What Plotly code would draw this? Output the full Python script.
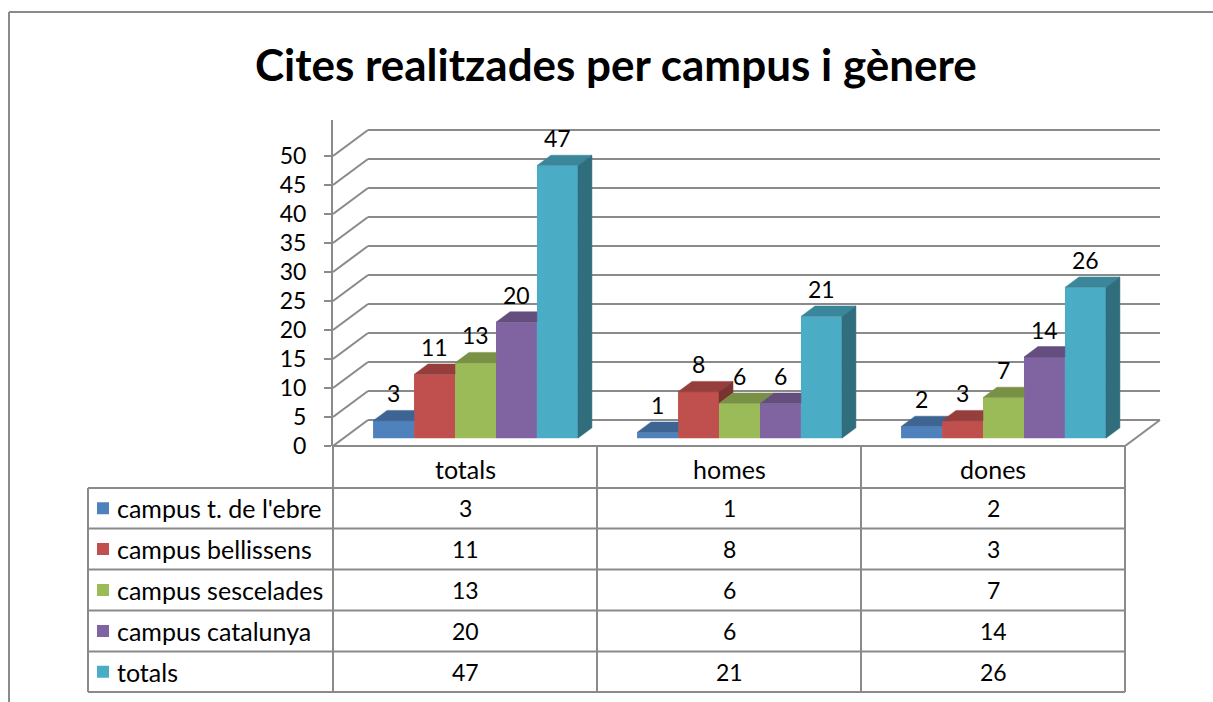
import plotly.graph_objects as go

# ---------------- data ----------------
categories = ["totals", "homes", "dones"]
series_names = ["campus t. de l'ebre", "campus bellissens", "campus sescelades",
                "campus catalunya", "totals"]
ebre = [3, 1, 2]
bellissens = [11, 8, 3]
sescelades = [13, 6, 7]
catalunya = [20, 6, 14]
totals = [47, 21, 26]
series_values = [ebre, bellissens, sescelades, catalunya, totals]
y_ticks = [0, 5, 10, 15, 20, 25, 30, 35, 40, 45, 50]
title_text = "Cites realitzades per campus i gènere"

# ---------------- style ----------------
colors = ["#4F81BD", "#C0504D", "#9BBB59", "#8064A2", "#4BACC6"]
FONT = "Lato"
FS = 23      # numbers
FS_T = 25    # words in the table
GRAY = "#8a8a8a"


def shade(hexcol, f):
    h = hexcol.lstrip("#")
    r, g, b = (int(h[i:i + 2], 16) for i in (0, 2, 4))
    return "rgb(%d,%d,%d)" % (r * f, g * f, b * f)


W, H = 1213, 702
PX_L, PX_R, PX_B, PX_T = 333, 1162, 446, 120
UX, UY = 264.0, 5.8             # px per category, px per value unit
x_range = [0, (PX_R - PX_L) / UX]
y_range = [0, (PX_B - PX_T) / UY]
DX, DY = 35 / UX, 26 / UY       # full depth of the 3D floor (data units)
F0, FD = 0.3, 0.4               # bar front depth fraction, bar depth fraction
BW = 0.1552                     # bar width (category units)
b = F0 * DY                     # bar base (visual)
bdx, bdy = FD * DX, FD * DY


def px_x(px):
    return (px - PX_L) / (PX_R - PX_L)


def px_y(py):
    return (PX_B - py) / (PX_B - PX_T)


fig = go.Figure()
shapes = []
annotations = []

# back wall gridlines + left wall diagonals
for v in y_ticks:
    shapes.append(dict(type="line", xref="x", yref="y", x0=DX, y0=v + DY,
                       x1=len(categories) + DX, y1=v + DY,
                       line=dict(color=GRAY, width=2), layer="below"))
    shapes.append(dict(type="line", xref="x", yref="y", x0=0, y0=v,
                       x1=DX, y1=v + DY,
                       line=dict(color=GRAY, width=2), layer="below"))
# floor right edge
shapes.append(dict(type="line", xref="x", yref="y", x0=len(categories), y0=0,
                   x1=len(categories) + DX, y1=DY,
                   line=dict(color=GRAY, width=2), layer="below"))

# bars (front faces)
nS = len(series_values)
lefts = [[i + 0.5 + F0 * DX - nS * BW / 2 + j * BW for i in range(len(categories))]
         for j in range(nS)]
for j, (name, vals) in enumerate(zip(series_names, series_values)):
    fig.add_trace(go.Bar(
        x=[L + BW / 2 for L in lefts[j]], y=vals, base=b, width=BW,
        marker=dict(color=colors[j], line=dict(width=0)),
        name=name, showlegend=False, hoverinfo="skip"))

# top and side faces
for j, vals in enumerate(series_values):
    for i, v in enumerate(vals):
        L = lefts[j][i]
        R = L + BW
        Ht = v + b
        nxt = series_values[j + 1][i] + b if j + 1 < nS else None
        if nxt is None or nxt <= Ht:
            tx = [L, R, R + bdx, L + bdx, L]
            ty = [Ht, Ht, Ht + bdy, Ht + bdy, Ht]
        elif nxt >= Ht + bdy:
            tx = [L, R, R, L + bdx, L]
            ty = [Ht, Ht, Ht + bdy, Ht + bdy, Ht]
        else:
            tx = [L, R, R, R + (nxt - Ht) * bdx / bdy, R + bdx, L + bdx, L]
            ty = [Ht, Ht, nxt, nxt, Ht + bdy, Ht + bdy, Ht]
        top_col = shade(colors[j], 0.78)
        fig.add_trace(go.Scatter(x=tx, y=ty, mode="lines", fill="toself",
                                 fillcolor=top_col, line=dict(width=0.5, color=top_col),
                                 showlegend=False, hoverinfo="skip"))
        low = b if nxt is None else nxt
        if low < Ht:
            side_col = shade(colors[j], 0.64)
            sx = [R, R + bdx, R + bdx, R, R]
            sy = [low, low + bdy, Ht + bdy, Ht, low]
            fig.add_trace(go.Scatter(x=sx, y=sy, mode="lines", fill="toself",
                                     fillcolor=side_col, line=dict(width=0.5, color=side_col),
                                     showlegend=False, hoverinfo="skip"))
        annotations.append(dict(xref="x", yref="y", x=L + BW / 2, y=Ht + bdy,
                                text=str(v), showarrow=False, xanchor="center",
                                yanchor="bottom", yshift=1,
                                font=dict(family=FONT, size=FS, color="black")))

# ---------------- data table ----------------
TBL_L = 88
row_edges = [446, 488, 528.5, 569.5, 610.5, 651.5, 692]
col_edges = [PX_L + i * UX for i in range(len(categories) + 1)]
TL = dict(color=GRAY, width=2)
for k, yy in enumerate(row_edges):
    x0 = PX_L if k == 0 else TBL_L
    shapes.append(dict(type="line", xref="paper", yref="paper",
                       x0=px_x(x0), x1=px_x(col_edges[-1]), y0=px_y(yy), y1=px_y(yy), line=TL))
shapes.append(dict(type="line", xref="paper", yref="paper", x0=px_x(TBL_L), x1=px_x(TBL_L),
                   y0=px_y(row_edges[1]), y1=px_y(row_edges[-1]), line=TL))
for cx in col_edges:
    shapes.append(dict(type="line", xref="paper", yref="paper", x0=px_x(cx), x1=px_x(cx),
                       y0=px_y(row_edges[0]), y1=px_y(row_edges[-1]), line=TL))
for i, c in enumerate(categories):
    annotations.append(dict(xref="paper", yref="paper",
                            x=px_x((col_edges[i] + col_edges[i + 1]) / 2),
                            y=px_y((row_edges[0] + row_edges[1]) / 2 + 2),
                            text=c, showarrow=False, xanchor="center", yanchor="middle",
                            font=dict(family=FONT, size=FS_T, color="black")))
for j, (name, vals) in enumerate(zip(series_names, series_values)):
    yc = (row_edges[j + 1] + row_edges[j + 2]) / 2
    shapes.append(dict(type="rect", xref="paper", yref="paper",
                       x0=px_x(97), x1=px_x(109), y0=px_y(yc - 6), y1=px_y(yc + 6),
                       fillcolor=colors[j], line=dict(width=0)))
    annotations.append(dict(xref="paper", yref="paper", x=px_x(115), y=px_y(yc),
                            text=name, showarrow=False, xanchor="left", yanchor="middle",
                            font=dict(family=FONT, size=FS_T, color="black")))
    for i, v in enumerate(vals):
        annotations.append(dict(xref="paper", yref="paper",
                                x=px_x((col_edges[i] + col_edges[i + 1]) / 2), y=px_y(yc),
                                text=str(v), showarrow=False, xanchor="center",
                                yanchor="middle",
                                font=dict(family=FONT, size=FS, color="black")))

# outer chart frame
shapes.append(dict(type="line", xref="paper", yref="paper", x0=px_x(9), x1=px_x(9),
                   y0=px_y(12), y1=px_y(H + 5), line=dict(color=GRAY, width=2)))
shapes.append(dict(type="line", xref="paper", yref="paper", x0=px_x(9), x1=px_x(W + 5),
                   y0=px_y(12), y1=px_y(12), line=dict(color=GRAY, width=2)))

# title
annotations.append(dict(xref="paper", yref="paper", x=px_x(616), y=px_y(64),
                        text="<b>" + title_text + "</b>", showarrow=False,
                        xanchor="center", yanchor="middle",
                        font=dict(family=FONT, size=44, color="black")))

fig.update_layout(
    width=W, height=H, autosize=False,
    margin=dict(l=PX_L, r=W - PX_R, t=PX_T, b=H - PX_B, pad=0),
    paper_bgcolor="white", plot_bgcolor="white",
    barmode="overlay",
    xaxis=dict(range=x_range, visible=False, fixedrange=True),
    yaxis=dict(range=y_range, tickvals=y_ticks, ticks="outside", ticklen=7,
               tickcolor=GRAY, tickwidth=2, showline=True, linecolor=GRAY, linewidth=2,
               showgrid=False, zeroline=False, ticklabelstandoff=13,
               tickfont=dict(family=FONT, size=FS, color="black"), fixedrange=True),
    shapes=shapes, annotations=annotations,
    showlegend=False,
)

fig.write_html("out.html", config={"displayModeBar": False},
               post_script="document.body.style.margin='0px';")
